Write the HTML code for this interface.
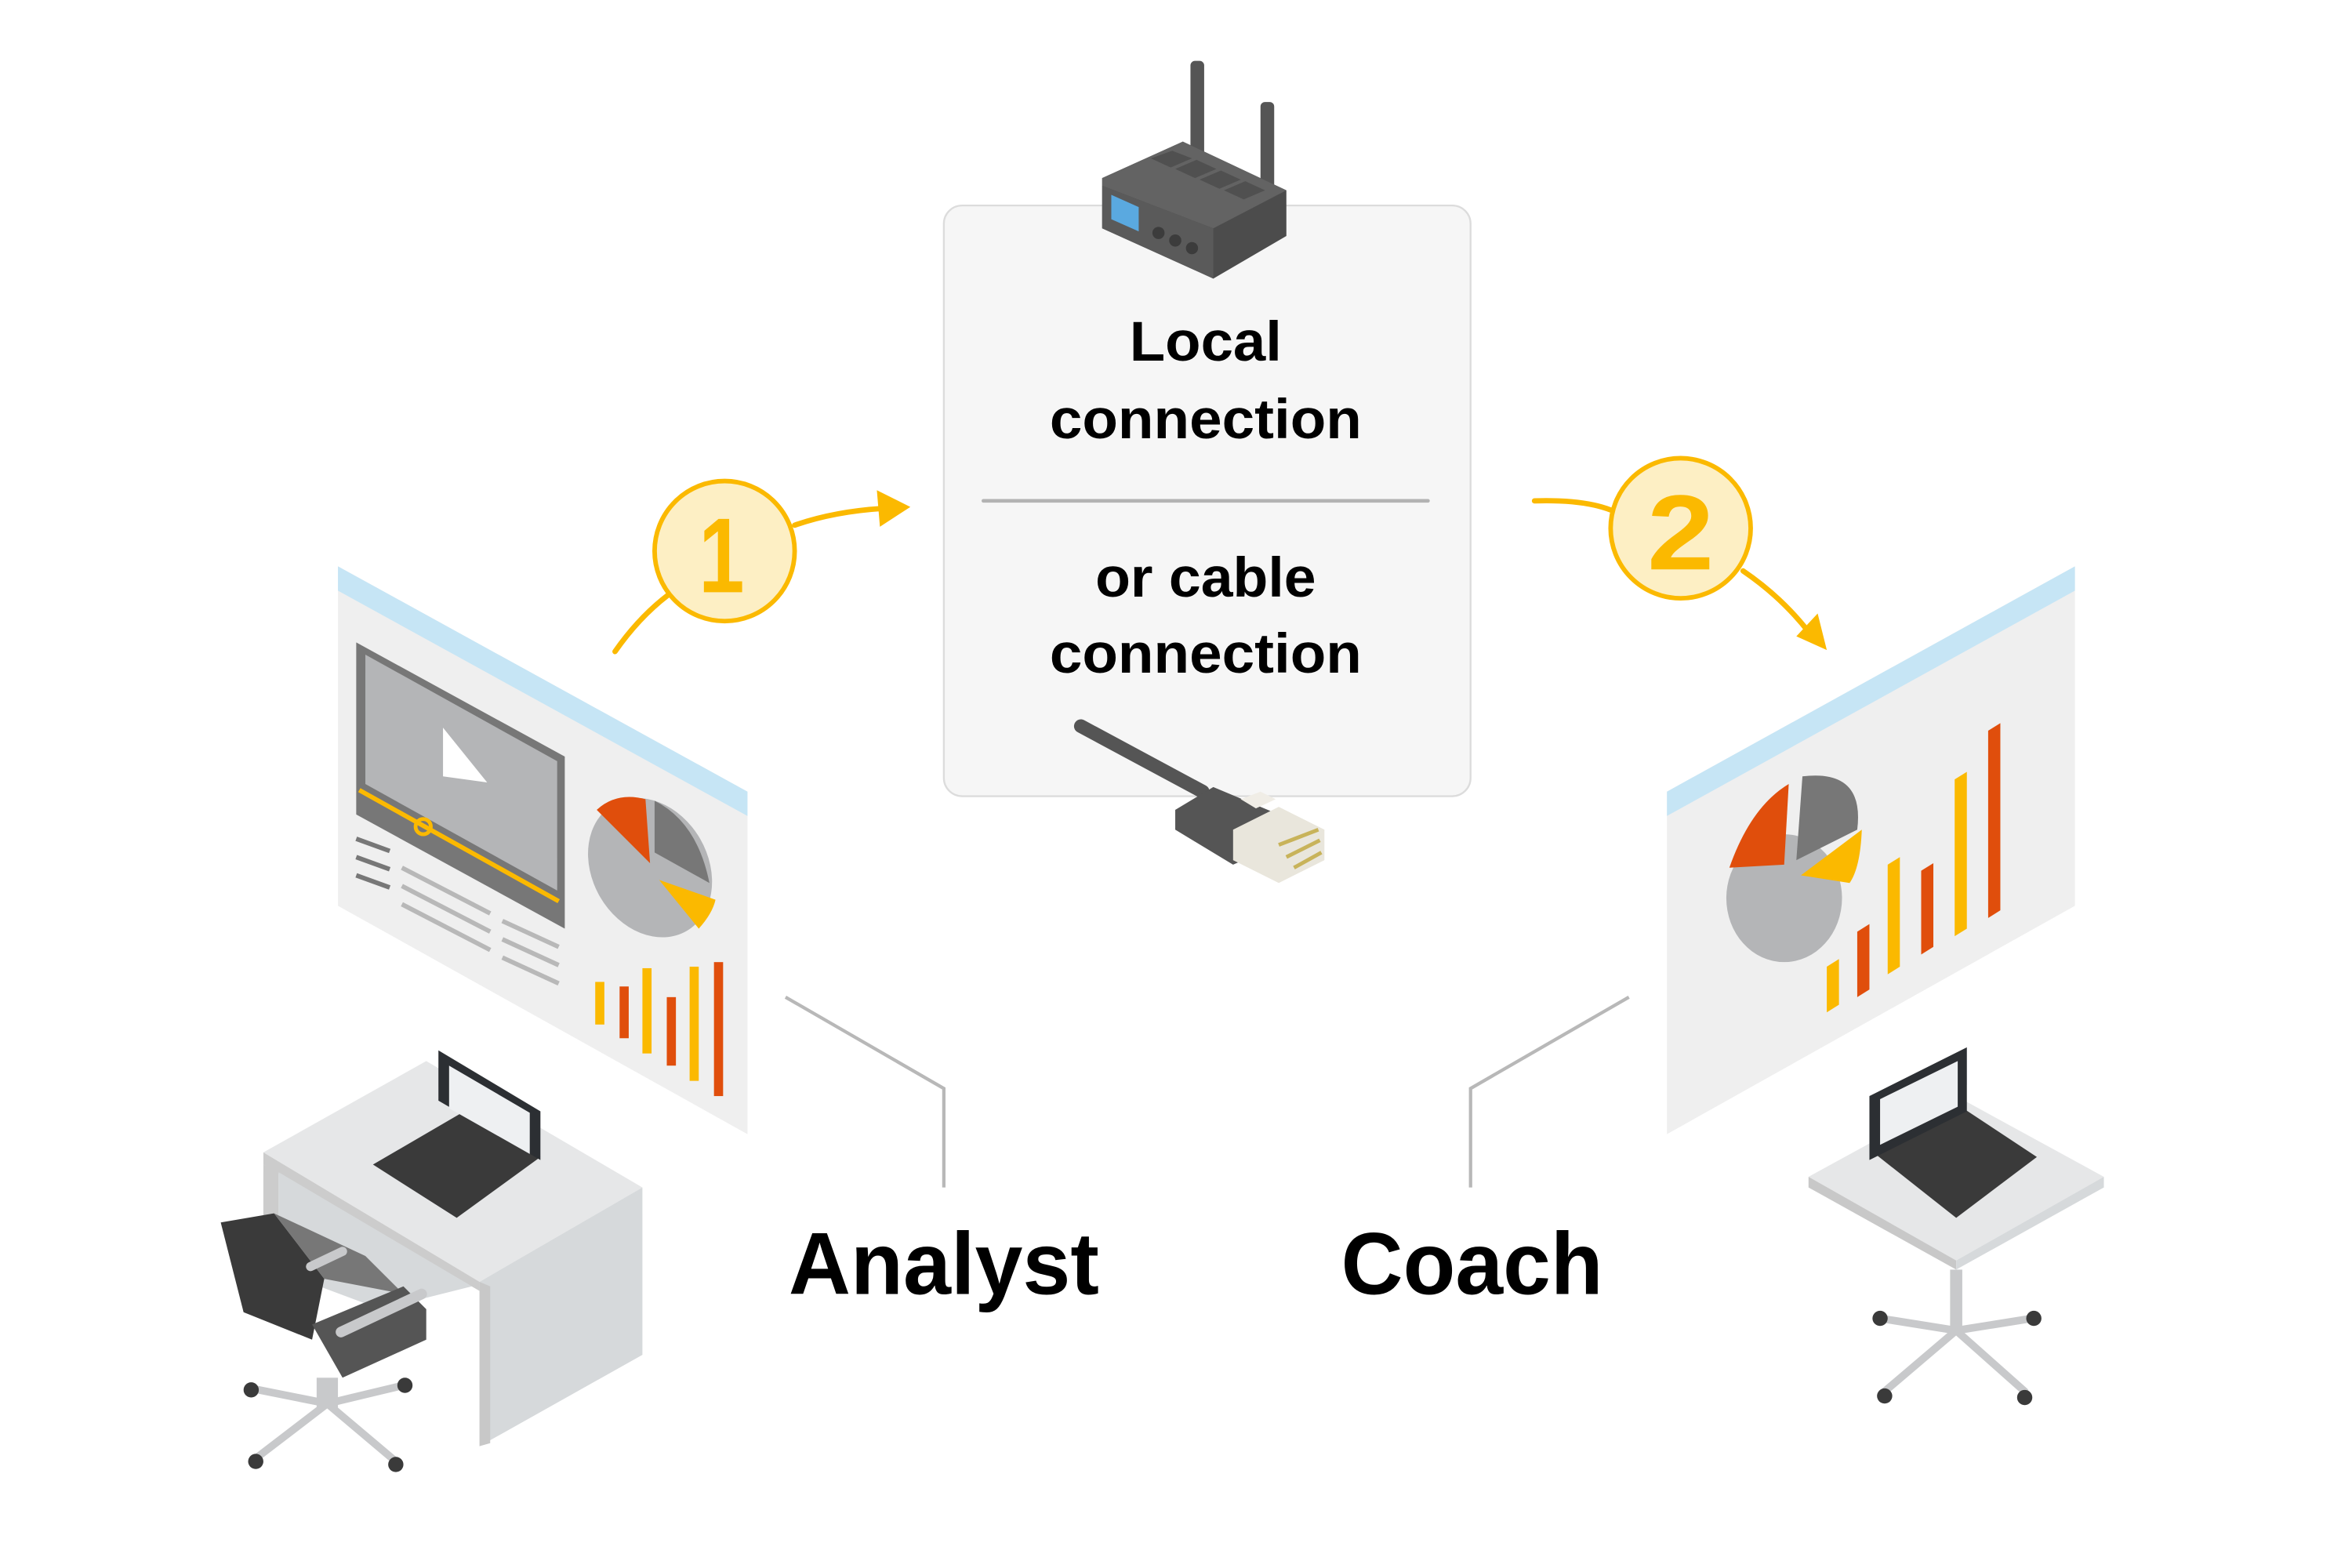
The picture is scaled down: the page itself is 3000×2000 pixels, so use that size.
<!DOCTYPE html>
<html><head><meta charset="utf-8"><style>
html,body{margin:0;padding:0;background:#fff;}
svg{display:block;}
</style></head><body>
<svg width="3000" height="2000" viewBox="0 0 1545 1030" preserveAspectRatio="none" xmlns="http://www.w3.org/2000/svg">
<!-- center box -->
<rect x="620" y="135" width="346" height="388" rx="12" fill="#f6f6f6" stroke="#dcdcdc" stroke-width="1.2"/>
<line x1="646" y1="329" x2="938" y2="329" stroke="#b3b3b3" stroke-width="2.4" stroke-linecap="round"/>
<g font-family="Liberation Sans, sans-serif" font-weight="bold" fill="#000" text-anchor="middle" font-size="37">
<text x="792" y="237" textLength="100" lengthAdjust="spacingAndGlyphs">Local</text>
<text x="792" y="288" textLength="205" lengthAdjust="spacingAndGlyphs">connection</text>
<text x="792" y="392" textLength="145" lengthAdjust="spacingAndGlyphs">or cable</text>
<text x="792" y="442" textLength="205" lengthAdjust="spacingAndGlyphs">connection</text>
<text x="620" y="850" font-size="58" textLength="204" lengthAdjust="spacingAndGlyphs">Analyst</text>
<text x="967" y="850" font-size="58" textLength="172" lengthAdjust="spacingAndGlyphs">Coach</text>
</g>
<!-- router -->
<rect x="782" y="40" width="9" height="65" rx="3" fill="#555"/>
<rect x="828" y="67" width="9" height="62" rx="3" fill="#555"/>
<polygon points="724,117 777,93 845,125 845,155 797,183 724,150" fill="#4c4c4c"/>
<polygon points="724,117 777,93 845,125 797,150 724,122" fill="#636363"/>
<polygon points="724,122 797,150 797,183 724,150" fill="#5a5a5a"/>
<polygon points="730,128 748,136 748,152 730,144" fill="#5aa9e0"/>
<circle cx="761" cy="153" r="4" fill="#3c3c3c"/><circle cx="772" cy="158" r="4" fill="#3c3c3c"/><circle cx="783" cy="163" r="4" fill="#3c3c3c"/>
<g fill="#505050"><polygon points="756,104 770,99 783,104 769,110"/><polygon points="772,111 786,105 799,111 785,117"/><polygon points="788,118 802,112 815,118 801,124"/><polygon points="804,125 818,119 831,125 817,131"/></g>
<!-- cable -->
<line x1="710" y1="477" x2="790" y2="520" stroke="#555" stroke-width="9" stroke-linecap="round"/>
<polygon points="772,532 797,517 840,535 840,555 810,568 772,545" fill="#555"/>
<polygon points="810,545 840,530 870,545 870,565 840,580 810,565" fill="#e9e6dc"/>
<polygon points="815,525 828,520 838,525 825,531" fill="#f0ede6"/>
<g stroke="#c8b35a" stroke-width="2.5"><line x1="840" y1="555" x2="866" y2="545"/><line x1="845" y1="563" x2="867" y2="552"/><line x1="850" y1="570" x2="868" y2="560"/></g>
<!-- connector lines -->
<polyline points="516,655 620,715 620,780" fill="none" stroke="#b8b8b8" stroke-width="2.2"/>
<polyline points="1070,655 966,715 966,780" fill="none" stroke="#b8b8b8" stroke-width="2.2"/>
<!-- arrows -->
<g fill="none" stroke="#fbb900" stroke-width="3.5" stroke-linecap="round">
<path d="M404,428 Q420,405 440,390"/>
<path d="M522,345 Q548,336 580,334"/>
<path d="M1008,329 Q1040,328 1058,335"/>
<path d="M1145,375 Q1170,392 1188,415"/>
</g>
<polygon points="598,333 576,322 578,346" fill="#fbb900"/>
<polygon points="1200,427 1180,418 1194,403" fill="#fbb900"/>
<circle cx="476" cy="362" r="46" fill="#fdefc4" stroke="#fbb900" stroke-width="3"/>
<circle cx="1104" cy="347" r="46" fill="#fdefc4" stroke="#fbb900" stroke-width="3"/>
<g font-family="Liberation Sans, sans-serif" font-weight="bold" fill="#fbb900" text-anchor="middle" font-size="70">
<text x="474" y="389" textLength="30" lengthAdjust="spacingAndGlyphs">1</text>
<text x="1104" y="374" textLength="44" lengthAdjust="spacingAndGlyphs">2</text>
</g>
<!-- left screen -->
<polygon points="222,372 491,520 491,745 222,595" fill="#efefef"/>
<polygon points="222,372 491,520 491,536 222,388" fill="#c6e5f5"/>
<polygon points="234,422 371,497 371,610 234,535" fill="#777"/>
<polygon points="240,430 366,500 366,585 240,515" fill="#b4b5b7"/>
<polygon points="291,478 320,514 291,510" fill="#fff"/>
<line x1="236" y1="519" x2="367" y2="592" stroke="#fbb900" stroke-width="3"/>
<circle cx="278" cy="543" r="5" fill="none" stroke="#fbb900" stroke-width="2.5"/>
<g stroke="#777" stroke-width="3"><line x1="234" y1="551" x2="256" y2="559"/><line x1="234" y1="563" x2="256" y2="571"/><line x1="234" y1="575" x2="256" y2="583"/></g>
<g stroke="#b8b8b8" stroke-width="3"><line x1="264" y1="570" x2="322" y2="600"/><line x1="264" y1="582" x2="322" y2="612"/><line x1="264" y1="594" x2="322" y2="624"/><line x1="330" y1="605" x2="367" y2="622"/><line x1="330" y1="617" x2="367" y2="634"/><line x1="330" y1="629" x2="367" y2="646"/></g>
<ellipse cx="427" cy="570" rx="38" ry="48" transform="rotate(-30 427 570)" fill="#b4b5b7"/>
<path d="M427,567 L392,532 Q405,520 424,525 Z" fill="#e04e0c"/>
<path d="M430,560 L430,526 Q458,540 466,580 Z" fill="#777"/>
<path d="M433,578 L470,591 Q468,600 459,610 Z" fill="#fbb900"/>
<g><rect x="391" y="645" width="6" height="28" fill="#fbb900"/><rect x="407" y="648" width="6" height="34" fill="#e04e0c"/><rect x="422" y="636" width="6" height="56" fill="#fbb900"/><rect x="438" y="655" width="6" height="45" fill="#e04e0c"/><rect x="453" y="635" width="6" height="75" fill="#fbb900"/><rect x="469" y="632" width="6" height="88" fill="#e04e0c"/></g>
<!-- right screen -->
<polygon points="1095,520 1363,372 1363,595 1095,745" fill="#efefef"/>
<polygon points="1095,520 1363,372 1363,388 1095,536" fill="#c6e5f5"/>
<ellipse cx="1172" cy="590" rx="38" ry="42" fill="#b4b5b7"/>
<path d="M1136,570 Q1150,530 1175,515 L1172,568 Z" fill="#e04e0c"/>
<path d="M1180,565 L1184,510 Q1225,505 1220,545 Z" fill="#777"/>
<path d="M1183,575 L1223,545 Q1222,570 1215,580 Z" fill="#fbb900"/>
<g><polygon points="1200,635 1208,630 1208,660 1200,665" fill="#fbb900"/><polygon points="1220,612 1228,607 1228,650 1220,655" fill="#e04e0c"/><polygon points="1240,568 1248,563 1248,635 1240,640" fill="#fbb900"/><polygon points="1262,572 1270,567 1270,622 1262,627" fill="#e04e0c"/><polygon points="1284,512 1292,507 1292,610 1284,615" fill="#fbb900"/><polygon points="1306,480 1314,475 1314,598 1306,603" fill="#e04e0c"/></g>
<!-- desk -->
<polygon points="173,757 280,697 422,780 315,842" fill="#e6e7e8"/>
<polygon points="315,842 422,780 422,890 315,950" fill="#d6d9db"/>
<polygon points="315,842 322,845 322,948 315,950" fill="#c8c8c8"/>
<polygon points="173,757 315,842 315,848 173,765" fill="#cccccc"/>
<polygon points="173,765 183,770 183,850 173,855" fill="#ccc"/>
<polygon points="183,770 310,845 250,860 183,835" fill="#d6d9db"/>
<!-- left laptop -->
<polygon points="245,765 305,730 355,760 300,800" fill="#3a3a3a"/>
<polygon points="288,690 355,730 355,762 288,723" fill="#2c2f33"/>
<polygon points="295,700 348,731 348,758 295,728" fill="#eef0f2"/>
<!-- chair -->
<polygon points="145,803 180,797 213,840 205,880 160,862" fill="#3a3a3a"/>
<polygon points="180,797 213,840 265,850 240,825" fill="#777"/>
<polygon points="205,870 265,845 280,860 280,880 225,905" fill="#555"/>
<line x1="224" y1="875" x2="277" y2="850" stroke="#c8c9cb" stroke-width="7" stroke-linecap="round"/>
<line x1="204" y1="832" x2="225" y2="822" stroke="#c8c9cb" stroke-width="6" stroke-linecap="round"/>
<rect x="208" y="905" width="14" height="20" fill="#c8c9cb"/>
<g stroke="#c8c9cb" stroke-width="5" stroke-linecap="round"><line x1="215" y1="922" x2="168" y2="958"/><line x1="215" y1="922" x2="260" y2="960"/><line x1="215" y1="922" x2="165" y2="912"/><line x1="215" y1="922" x2="265" y2="910"/></g>
<g fill="#3a3a3a"><circle cx="168" cy="960" r="5"/><circle cx="260" cy="962" r="5"/><circle cx="165" cy="913" r="5"/><circle cx="266" cy="910" r="5"/></g>
<!-- right table -->
<polygon points="1188,773 1285,720 1382,773 1285,828" fill="#e6e7e8"/>
<polygon points="1188,773 1285,828 1285,834 1188,780" fill="#c8c8c8"/>
<polygon points="1285,828 1382,773 1382,780 1285,834" fill="#d6d9db"/>
<rect x="1281" y="834" width="8" height="40" fill="#c8c9cb"/>
<g stroke="#c8c9cb" stroke-width="5" stroke-linecap="round"><line x1="1285" y1="874" x2="1238" y2="914"/><line x1="1285" y1="874" x2="1330" y2="914"/><line x1="1285" y1="874" x2="1235" y2="866"/><line x1="1285" y1="874" x2="1335" y2="866"/></g>
<g fill="#3a3a3a"><circle cx="1238" cy="917" r="5"/><circle cx="1330" cy="918" r="5"/><circle cx="1235" cy="866" r="5"/><circle cx="1336" cy="866" r="5"/></g>
<!-- right laptop -->
<polygon points="1228,755 1285,725 1338,760 1285,800" fill="#3a3a3a"/>
<polygon points="1228,720 1292,688 1292,730 1228,762" fill="#2c2f33"/>
<polygon points="1235,722 1286,697 1286,727 1235,752" fill="#eef0f2"/>
</svg>
</body></html>
